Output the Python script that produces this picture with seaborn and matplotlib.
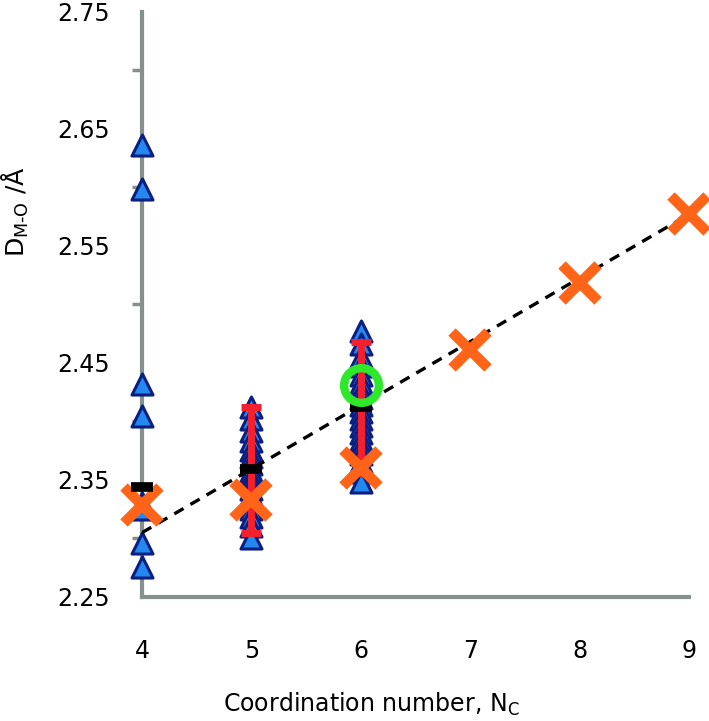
import numpy as np
import pandas as pd
import matplotlib
matplotlib.use("Agg")
import matplotlib.pyplot as plt
import seaborn as sns

# --- data ---
tri_x4 = [2.636, 2.599, 2.432, 2.405, 2.330, 2.325, 2.296, 2.276]
tri_x5 = [2.412, 2.402, 2.392, 2.383, 2.376, 2.370, 2.364, 2.358, 2.352,
          2.347, 2.342, 2.337, 2.331, 2.325, 2.318, 2.311, 2.300]
tri_x6 = [2.477, 2.466, 2.455, 2.447, 2.440, 2.433, 2.426, 2.420, 2.414,
          2.408, 2.402, 2.396, 2.390, 2.384, 2.378, 2.372, 2.365, 2.357, 2.348]

bar_x = [5, 6]
bar_lo = [2.305, 2.356]
bar_hi = [2.412, 2.468]

avg_x = [4, 5, 6]
avg_y = [2.344, 2.359, 2.412]

cross_x = [4, 5, 6, 7, 8, 9]
cross_y = [2.329, 2.333, 2.360, 2.461, 2.518, 2.577]

circle_x = [6]
circle_y = [2.431]

fit_x = [4, 9]
fit_y = [2.305, 2.577]

tri = pd.DataFrame({
    "nc": [4] * len(tri_x4) + [5] * len(tri_x5) + [6] * len(tri_x6),
    "d": tri_x4 + tri_x5 + tri_x6,
})

sns.set_style("white")
plt.rcParams['font.family'] = ['DejaVu Sans']

fig = plt.figure(figsize=(7.09, 7.21), dpi=100)
ax = fig.add_axes([0.2003, 0.172, 0.7715, 0.8114])

grey = "#84918f"

sns.scatterplot(data=tri, x="nc", y="d", marker="^", s=230, color="#2389f0",
                edgecolor="#0b1f80", linewidth=2.2, ax=ax, zorder=3, clip_on=False)

ax.plot(fit_x, fit_y, ls=(0, (3.2, 2.4)), color="black", lw=2.4, zorder=4)

mid = [(a + b) / 2 for a, b in zip(bar_lo, bar_hi)]
err = [(b - a) / 2 for a, b in zip(bar_lo, bar_hi)]
ax.errorbar(bar_x, mid, yerr=err, fmt="none", ecolor="#f5202e", elinewidth=5,
            capsize=7, capthick=5, zorder=5)

ax.plot(cross_x, cross_y, ls="none", marker="x", ms=26, mew=7.5, color="#ff6419",
        zorder=6, clip_on=False)

ax.plot(avg_x, avg_y, ls="none", marker="_", ms=16, mew=7, color="black", zorder=7,
        clip_on=False)

ax.plot(circle_x, circle_y, ls="none", marker="o", ms=25, mfc="none", mew=6,
        mec="#2ee82a", zorder=8)

ax.set_xlim(4, 9)
ax.set_ylim(2.25, 2.75)
ax.set_xticks(range(4, 10))
ax.set_yticks(np.arange(2.25, 2.751, 0.1))
ax.set_yticks(np.arange(2.30, 2.71, 0.1), minor=True)
ax.yaxis.set_major_formatter(matplotlib.ticker.FormatStrFormatter("%.2f"))

for side in ["top", "right"]:
    ax.spines[side].set_visible(False)
for side in ["left", "bottom"]:
    ax.spines[side].set_color(grey)
    ax.spines[side].set_linewidth(3)

ax.tick_params(axis="x", which="major", direction="out", length=8, width=2.5,
               color=grey, pad=22, labelsize=17, labelcolor="black")
ax.tick_params(axis="y", which="major", direction="out", length=9, width=2.5,
               color=grey, pad=14, labelsize=17, labelcolor="black")
ax.tick_params(axis="y", which="minor", direction="out", length=7, width=2.5,
               color=grey, left=True)

ax.set_xlabel(r"Coordination number, N$_\mathregular{C}$", fontsize=17, color="black")
ax.set_ylabel(r"D$_{\mathregular{M\text{-}O}}$ /Å", fontsize=18, color="black")
ax.xaxis.set_label_coords(0.42, -0.183)
ax.yaxis.set_label_coords(-0.232, 0.658)
ax.xaxis.label.set_va("center")
ax.yaxis.label.set_va("center")

fig.savefig("out.png", dpi=100)
